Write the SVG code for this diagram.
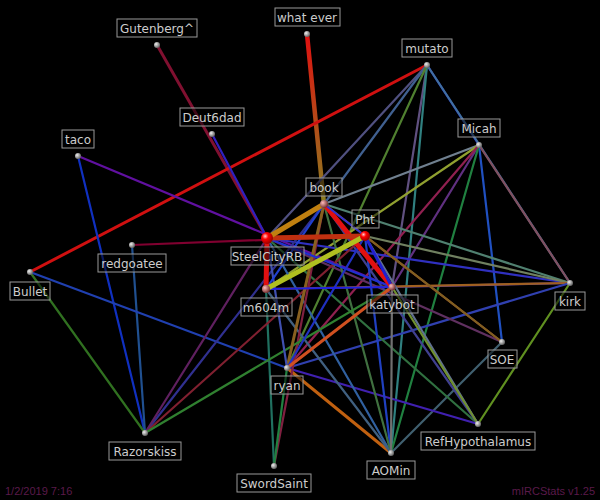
<svg xmlns="http://www.w3.org/2000/svg" width="600" height="500" viewBox="0 0 600 500">
<style>
.l{font-family:"DejaVu Sans",sans-serif;font-size:12px;fill:#ccc;text-anchor:middle}
.b{fill:#000;fill-opacity:.5;stroke:#999;stroke-width:1}
.e{fill:none;stroke-linecap:round}
.f{font-family:"Liberation Sans Narrow","Liberation Sans",sans-serif;font-size:11px;fill:#5a1a4a}
</style>
<defs>
<radialGradient id="g" cx="35%" cy="35%" r="65%"><stop offset="0" stop-color="#eee"/><stop offset="1" stop-color="#666"/></radialGradient>
<radialGradient id="r" cx="35%" cy="35%" r="65%"><stop offset="0" stop-color="#fcc"/><stop offset=".4" stop-color="#f00"/><stop offset="1" stop-color="#900"/></radialGradient>
<radialGradient id="m" cx="35%" cy="35%" r="65%"><stop offset="0" stop-color="#fbb"/><stop offset="1" stop-color="#733"/></radialGradient>
<linearGradient id="we" gradientUnits="userSpaceOnUse" x1="307" y1="34" x2="324" y2="204"><stop offset="0" stop-color="#e01010"/><stop offset="1" stop-color="#8a8020"/></linearGradient>
</defs>
<rect width="600" height="500" fill="#000"/>
<g id="connectors" class="e" stroke-width="2.2">
<line x1="307" y1="34" x2="324" y2="204" stroke="url(#we)" stroke-width="4.5"/>
<line x1="157" y1="45" x2="267" y2="238" stroke="#801030" stroke-width="3"/>
<line x1="427" y1="65" x2="30" y2="272" stroke="#d01010" stroke-width="3"/>
<line x1="78" y1="156" x2="392" y2="287" stroke="#6010a0"/>
<line x1="78" y1="156" x2="145" y2="433" stroke="#1030c0"/>
<line x1="212" y1="134" x2="267" y2="238" stroke="#3020c0"/>
<line x1="132" y1="245" x2="365" y2="236" stroke="#800030"/>
<line x1="132" y1="245" x2="145" y2="433" stroke="#205090"/>
<line x1="30" y1="272" x2="145" y2="433" stroke="#307020"/>
<line x1="30" y1="272" x2="287" y2="368" stroke="#2040b0"/>
<line x1="427" y1="65" x2="479" y2="145" stroke="#2020c0"/>
<line x1="427" y1="65" x2="267" y2="238" stroke="#505080"/>
<line x1="427" y1="65" x2="324" y2="204" stroke="#406090"/>
<line x1="427" y1="65" x2="392" y2="287" stroke="#605080"/>
<line x1="427" y1="65" x2="391" y2="453" stroke="#308080"/>
<line x1="427" y1="65" x2="287" y2="368" stroke="#508030"/>
<line x1="427" y1="65" x2="570" y2="283" stroke="#4070a0"/>
<line x1="479" y1="145" x2="324" y2="204" stroke="#708090"/>
<line x1="479" y1="145" x2="266" y2="289" stroke="#90a030"/>
<line x1="479" y1="145" x2="392" y2="287" stroke="#603080"/>
<line x1="479" y1="145" x2="502" y2="342" stroke="#2050c0"/>
<line x1="479" y1="145" x2="570" y2="283" stroke="#805060"/>
<line x1="479" y1="145" x2="391" y2="453" stroke="#208040"/>
<line x1="479" y1="145" x2="287" y2="368" stroke="#902050"/>
<line x1="570" y1="283" x2="267" y2="238" stroke="#3030c0"/>
<line x1="570" y1="283" x2="324" y2="204" stroke="#508070"/>
<line x1="570" y1="283" x2="365" y2="236" stroke="#708060"/>
<line x1="570" y1="283" x2="392" y2="287" stroke="#6040a0"/>
<line x1="570" y1="283" x2="266" y2="289" stroke="#a06020"/>
<line x1="570" y1="283" x2="478" y2="424" stroke="#609020"/>
<line x1="570" y1="283" x2="287" y2="368" stroke="#3040b0"/>
<line x1="502" y1="342" x2="267" y2="238" stroke="#603060"/>
<line x1="502" y1="342" x2="365" y2="236" stroke="#a04030"/>
<line x1="502" y1="342" x2="324" y2="204" stroke="#806020"/>
<line x1="502" y1="342" x2="391" y2="453" stroke="#406070"/>
<line x1="478" y1="424" x2="267" y2="238" stroke="#307040"/>
<line x1="478" y1="424" x2="365" y2="236" stroke="#607090"/>
<line x1="478" y1="424" x2="324" y2="204" stroke="#404090"/>
<line x1="478" y1="424" x2="392" y2="287" stroke="#709030"/>
<line x1="478" y1="424" x2="287" y2="368" stroke="#4020b0"/>
<line x1="391" y1="453" x2="267" y2="238" stroke="#3060a0"/>
<line x1="391" y1="453" x2="365" y2="236" stroke="#2040c0"/>
<line x1="391" y1="453" x2="324" y2="204" stroke="#407040"/>
<line x1="391" y1="453" x2="392" y2="287" stroke="#707070"/>
<line x1="391" y1="453" x2="287" y2="368" stroke="#c06010" stroke-width="3"/>
<line x1="391" y1="453" x2="266" y2="289" stroke="#406080"/>
<line x1="274" y1="466" x2="266" y2="289" stroke="#207060"/>
<line x1="274" y1="466" x2="324" y2="204" stroke="#802040"/>
<line x1="274" y1="466" x2="287" y2="368" stroke="#208040"/>
<line x1="145" y1="433" x2="324" y2="204" stroke="#303090"/>
<line x1="145" y1="433" x2="365" y2="236" stroke="#802030"/>
<line x1="145" y1="433" x2="267" y2="238" stroke="#602060"/>
<line x1="145" y1="433" x2="392" y2="287" stroke="#308030"/>
<line x1="287" y1="368" x2="324" y2="204" stroke="#886020" stroke-width="3"/>
<line x1="287" y1="368" x2="365" y2="236" stroke="#2030c0"/>
<line x1="287" y1="368" x2="267" y2="238" stroke="#4050b0"/>
<line x1="287" y1="368" x2="392" y2="287" stroke="#d05020" stroke-width="3"/>
<line x1="266" y1="289" x2="324" y2="204" stroke="#2040d0"/>
<line x1="266" y1="289" x2="392" y2="287" stroke="#2020e0"/>
<line x1="267" y1="238" x2="392" y2="287" stroke="#2030d0"/>
<line x1="324" y1="204" x2="392" y2="287" stroke="#e01010" stroke-width="5"/>
<line x1="267" y1="238" x2="365" y2="236" stroke="#c03010" stroke-width="5"/>
<line x1="267" y1="238" x2="324" y2="204" stroke="#c08010" stroke-width="5"/>
<line x1="267" y1="238" x2="266" y2="289" stroke="#e01010" stroke-width="5"/>
<line x1="266" y1="289" x2="365" y2="236" stroke="#b0c020" stroke-width="5"/>
<line x1="365" y1="236" x2="392" y2="287" stroke="#2020d0" stroke-width="3"/>
<line x1="324" y1="204" x2="365" y2="236" stroke="#3030d0" stroke-width="2"/>
</g>
<g id="n-gutenberg"><circle cx="157" cy="45" r="3" fill="url(#g)"/><rect class="b" x="117" y="19" width="80" height="18"/><text class="l" x="157" y="33">Gutenberg^</text></g>
<g id="n-whatever"><circle cx="307" cy="34" r="3" fill="url(#g)"/><rect class="b" x="275" y="8" width="65" height="18"/><text class="l" x="307" y="22">what ever</text></g>
<g id="n-mutato"><circle cx="427" cy="65" r="3" fill="url(#g)"/><rect class="b" x="402" y="39" width="50" height="18"/><text class="l" x="427" y="53">mutato</text></g>
<g id="n-deut6dad"><circle cx="212" cy="134" r="3" fill="url(#g)"/><rect class="b" x="180" y="108" width="64" height="18"/><text class="l" x="212" y="122">Deut6dad</text></g>
<g id="n-taco"><circle cx="78" cy="156" r="3" fill="url(#g)"/><rect class="b" x="62" y="130" width="32" height="18"/><text class="l" x="78" y="144">taco</text></g>
<g id="n-micah"><circle cx="479" cy="145" r="3" fill="url(#g)"/><rect class="b" x="458" y="119" width="42" height="18"/><text class="l" x="479" y="133">Micah</text></g>
<g id="n-book"><circle cx="324" cy="204" r="4" fill="url(#m)"/><rect class="b" x="306" y="178" width="36" height="18"/><text class="l" x="324" y="192">book</text></g>
<g id="n-pht"><circle cx="365" cy="236" r="5" fill="url(#r)"/><rect class="b" x="352" y="210" width="27" height="18"/><text class="l" x="365" y="224">Pht</text></g>
<g id="n-steelcityrb"><circle cx="267" cy="238" r="6" fill="url(#r)"/><rect class="b" x="231" y="247" width="73" height="18"/><text class="l" x="267" y="261">SteelCityRB</text></g>
<g id="n-redgoatee"><circle cx="132" cy="245" r="3" fill="url(#g)"/><rect class="b" x="98" y="254" width="68" height="18"/><text class="l" x="132" y="268">redgoatee</text></g>
<g id="n-bullet"><circle cx="30" cy="272" r="3" fill="url(#g)"/><rect class="b" x="10" y="282" width="40" height="18"/><text class="l" x="30" y="296">Bullet</text></g>
<g id="n-m604m"><circle cx="266" cy="289" r="4" fill="url(#m)"/><rect class="b" x="241" y="298" width="51" height="18"/><text class="l" x="266" y="312">m604m</text></g>
<g id="n-katybot"><circle cx="392" cy="287" r="3.5" fill="url(#m)"/><rect class="b" x="367" y="295" width="51" height="18"/><text class="l" x="392" y="309">katybot</text></g>
<g id="n-kirk"><circle cx="570" cy="283" r="3" fill="url(#g)"/><rect class="b" x="555" y="292" width="30" height="18"/><text class="l" x="570" y="306">kirk</text></g>
<g id="n-soe"><circle cx="502" cy="342" r="3" fill="url(#g)"/><rect class="b" x="488" y="350" width="29" height="18"/><text class="l" x="502" y="364">SOE</text></g>
<g id="n-ryan"><circle cx="287" cy="368" r="3" fill="url(#g)"/><rect class="b" x="271" y="376" width="32" height="18"/><text class="l" x="287" y="390">ryan</text></g>
<g id="n-razorskiss"><circle cx="145" cy="433" r="3" fill="url(#g)"/><rect class="b" x="109" y="442" width="72" height="18"/><text class="l" x="145" y="456">Razorskiss</text></g>
<g id="n-refhypothalamus"><circle cx="478" cy="424" r="3" fill="url(#g)"/><rect class="b" x="421" y="432" width="114" height="18"/><text class="l" x="478" y="446">RefHypothalamus</text></g>
<g id="n-aomin"><circle cx="391" cy="453" r="3" fill="url(#g)"/><rect class="b" x="367" y="461" width="48" height="18"/><text class="l" x="391" y="475">AOMin</text></g>
<g id="n-swordsaint"><circle cx="274" cy="466" r="3" fill="url(#g)"/><rect class="b" x="237" y="474" width="74" height="18"/><text class="l" x="274" y="488">SwordSaint</text></g>
<text class="f" x="5" y="495">1/2/2019 7:16</text>
<text class="f" x="595" y="495" text-anchor="end">mIRCStats v1.25</text>
</svg>
